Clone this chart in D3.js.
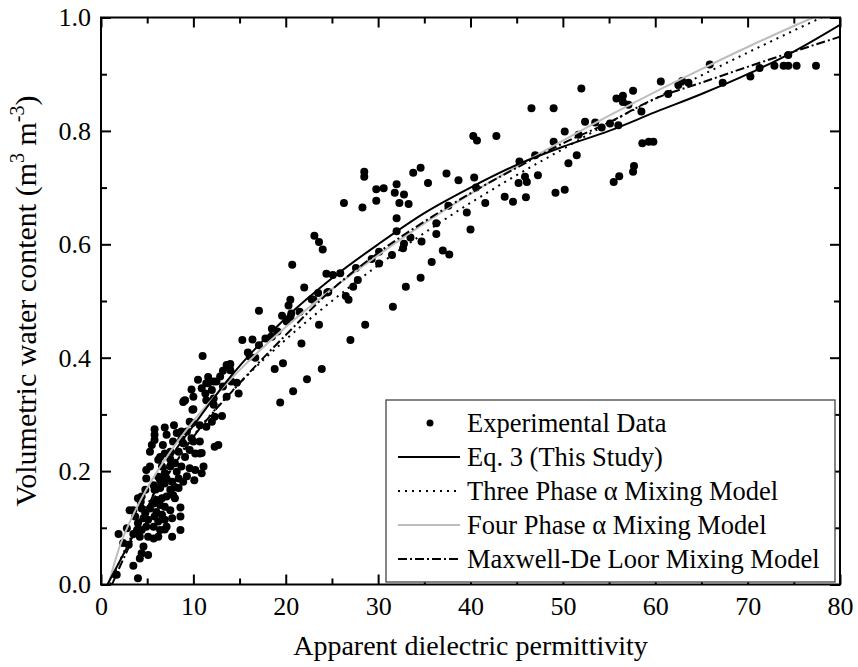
<!DOCTYPE html>
<html>
<head>
<meta charset="utf-8">
<script src="https://cdn.jsdelivr.net/npm/d3@7/dist/d3.min.js"></script>
<style>
  html, body { margin: 0; padding: 0; background: #fff; }
  svg { display: block; }
  text { font-family: "Liberation Serif", "Times New Roman", Times, serif; fill: #000; }
</style>
</head>
<body>
<svg id="chart" width="858" height="667"></svg>
<script>
// Measured soil samples: apparent dielectric permittivity vs volumetric water content
const permittivity = [
  52.0,52.4,53.5,54.2,55.1,56.0,55.8,56.5,56.5,57.1,57.6,58.5,58.6,59.3,59.8,55.5,56.1,57.6,57.7,60.6,
  61.4,62.5,62.9,63.6,65.9,67.3,70.3,71.3,72.9,73.9,74.4,75.3,74.4,77.4,46.6,49.0,40.3,40.7,42.8,50.2,
  49.0,51.7,50.6,51.5,49.2,50.2,47.3,47.0,45.3,45.2,45.9,46.1,46.0,44.6,43.7,41.6,40.6,40.4,38.7,37.4,
  35.4,34.6,33.8,39.6,40.0,37.6,36.3,36.3,37.0,37.7,35.8,34.7,34.6,33.0,33.5,32.7,32.0,32.0,32.3,33.3,
  31.8,32.8,32.0,30.6,29.8,29.8,28.5,28.5,28.3,26.3,31.5,30.1,30.1,29.3,32.8,31.6,28.6,27.0,23.9,22.3,
  21.7,23.6,27.6,27.8,27.3,26.5,26.8,25.9,25.1,24.4,24.6,23.5,23.0,22.0,23.1,23.6,24.0,21.5,20.7,24.5,
  22.8,20.8,19.4,19.7,18.8,17.1,20.3,20.5,19.6,20.6,18.5,19.1,18.5,17.8,17.1,16.4,15.3,15.9,16.1,16.7,
  14.0,14.0,13.2,12.9,12.5,12.2,13.2,11.6,11.3,10.5,11.0,9.8,9.1,10.0,12.0,11.4,12.2,13.6,14.7,14.9,
  13.1,12.0,11.4,10.7,9.6,9.3,9.8,8.9,9.6,10.7,10.7,10.2,12.3,12.7,12.2,9.0,9.9,12.3,7.9,6.9,
  9.9,8.7,5.8,5.8,5.8,5.5,5.3,7.8,8.7,10.0,10.9,7.5,6.9,6.4,6.2,7.5,8.0,8.7,9.6,10.2,
  11.1,10.9,9.3,10.1,8.4,8.9,4.9,4.9,5.3,6.6,6.9,6.2,5.7,5.8,6.4,6.9,7.7,7.5,7.8,7.1,
  6.6,6.0,6.4,6.9,6.0,6.6,6.9,6.2,5.7,6.4,6.9,7.7,8.6,5.7,4.4,4.8,4.3,4.4,4.8,5.1,
  4.9,4.6,3.7,4.0,4.4,3.9,3.5,4.0,3.5,4.2,3.0,2.4,1.9,4.6,4.4,4.2,3.5,5.1,1.7,4.0,
  7.7,8.6,8.0,8.4,8.9,10.0,10.9,11.6,13.6,20.1,20.5,2.8,3.1,14.1,11.4,13.9,7.1,8.2,6.7,8.4,
  9.1,7.5,8.2,7.1,6.4,8.0,5.7,5.3,5.8,7.5,5.1,6.2,7.1,8.6
];
const waterContent = [
  0.875,0.816,0.815,0.806,0.813,0.810,0.857,0.862,0.851,0.846,0.871,0.834,0.778,0.781,0.781,0.710,0.720,0.728,0.738,0.887,
  0.865,0.881,0.888,0.885,0.917,0.885,0.896,0.911,0.915,0.915,0.915,0.915,0.934,0.915,0.840,0.840,0.791,0.783,0.791,0.799,
  0.781,0.793,0.743,0.757,0.691,0.696,0.722,0.757,0.746,0.708,0.719,0.710,0.683,0.675,0.684,0.673,0.700,0.718,0.713,0.725,
  0.708,0.735,0.726,0.656,0.626,0.668,0.637,0.618,0.589,0.582,0.569,0.605,0.541,0.525,0.612,0.593,0.623,0.646,0.673,0.671,
  0.691,0.688,0.706,0.699,0.697,0.677,0.728,0.719,0.665,0.673,0.581,0.566,0.587,0.574,0.601,0.490,0.458,0.431,0.380,0.362,
  0.425,0.458,0.558,0.537,0.525,0.509,0.502,0.549,0.546,0.548,0.516,0.514,0.502,0.524,0.615,0.604,0.591,0.481,0.564,0.515,
  0.503,0.341,0.321,0.390,0.380,0.483,0.492,0.502,0.474,0.478,0.451,0.446,0.437,0.434,0.422,0.432,0.431,0.409,0.402,0.400,
  0.389,0.378,0.377,0.367,0.358,0.358,0.349,0.355,0.337,0.361,0.403,0.344,0.325,0.309,0.343,0.325,0.328,0.331,0.356,0.337,
  0.297,0.287,0.278,0.281,0.287,0.270,0.258,0.249,0.237,0.252,0.231,0.231,0.243,0.246,0.317,0.324,0.308,0.296,0.281,0.277,
  0.285,0.270,0.274,0.264,0.255,0.246,0.234,0.252,0.256,0.252,0.232,0.234,0.231,0.225,0.220,0.221,0.214,0.208,0.205,0.202,
  0.208,0.196,0.191,0.184,0.187,0.181,0.202,0.187,0.208,0.208,0.196,0.190,0.175,0.167,0.170,0.178,0.181,0.167,0.158,0.155,
  0.152,0.149,0.140,0.137,0.128,0.123,0.114,0.111,0.102,0.096,0.097,0.117,0.136,0.081,0.155,0.167,0.146,0.134,0.126,0.114,
  0.102,0.117,0.120,0.108,0.096,0.096,0.131,0.152,0.089,0.084,0.070,0.073,0.089,0.067,0.055,0.046,0.033,0.052,0.017,0.011,
  0.084,0.096,0.152,0.170,0.322,0.331,0.346,0.366,0.387,0.464,0.472,0.099,0.131,0.358,0.355,0.383,0.264,0.267,0.246,0.234,
  0.225,0.208,0.199,0.187,0.184,0.172,0.143,0.134,0.120,0.131,0.084,0.084,0.102,0.120
];

// Calibration / model curves (permittivity, water content)
const eq3Ka    = [0.7, 2, 5, 8, 10, 14, 20, 25, 30, 35, 40, 45, 50, 55, 60, 65, 70, 75, 80];
const eq3Theta = [0, 0.04, 0.135, 0.235, 0.28, 0.366, 0.47, 0.54, 0.6, 0.655, 0.7, 0.74, 0.772, 0.8, 0.833, 0.865, 0.9, 0.94, 0.987];

const threePhaseKa    = [1.0, 2, 3, 5, 7.5, 10, 15, 20, 25, 30, 35, 40, 45, 50, 55, 60, 65, 70, 75, 78];
const threePhaseTheta = [0, 0.04, 0.075, 0.14, 0.205, 0.262, 0.355, 0.432, 0.5, 0.563, 0.62, 0.673, 0.722, 0.768, 0.814, 0.857, 0.898, 0.938, 0.977, 1.0];

const fourPhaseKa    = [0.8, 2, 3, 5, 7.5, 10, 15, 20, 25, 30, 35, 40, 45, 50, 55, 60, 65, 70, 75, 77.1];
const fourPhaseTheta = [0, 0.066, 0.106, 0.17, 0.234, 0.288, 0.378, 0.454, 0.521, 0.581, 0.637, 0.689, 0.737, 0.783, 0.827, 0.869, 0.909, 0.948, 0.985, 1.0];

const maxwellKa    = [1.2, 2, 3, 5, 7.5, 10, 15, 20, 25, 30, 35, 40, 45, 50, 55, 60, 65, 70, 75, 80];
const maxwellTheta = [0, 0.03, 0.065, 0.13, 0.2, 0.26, 0.355, 0.44, 0.52, 0.585, 0.64, 0.69, 0.735, 0.778, 0.815, 0.857, 0.885, 0.913, 0.94, 0.966];

const xTickValues = [0, 10, 20, 30, 40, 50, 60, 70, 80];
const yTickValues = [0.0, 0.2, 0.4, 0.6, 0.8, 1.0];
const legendLabels = [
  "Experimental Data",
  "Eq. 3 (This Study)",
  "Three Phase \u03b1 Mixing Model",
  "Four Phase \u03b1 Mixing Model",
  "Maxwell-De Loor Mixing Model"
];

const svg = d3.select("#chart");
const pLeft = 101, pRight = 840, pTop = 17.5, pBottom = 584.5;

const x = d3.scaleLinear().domain([0, 80]).range([pLeft, pRight]);
const y = d3.scaleLinear().domain([0, 1]).range([pBottom, pTop]);

svg.append("defs").append("clipPath").attr("id", "plotClip")
  .append("rect").attr("x", pLeft).attr("y", pTop).attr("width", pRight - pLeft).attr("height", pBottom - pTop);

const plot = svg.append("g").attr("clip-path", "url(#plotClip)");

// Scatter of measurements
plot.append("g").selectAll("circle")
  .data(permittivity.map((k, i) => [k, waterContent[i]]))
  .join("circle")
  .attr("cx", d => x(d[0]))
  .attr("cy", d => y(d[1]))
  .attr("r", 4)
  .attr("fill", "#000");

const styles = {
  eq3:     { stroke: "#000", width: 2, dash: null },
  three:   { stroke: "#000", width: 2, dash: "2,5" },
  four:    { stroke: "#bdbdbd", width: 2, dash: null },
  maxwell: { stroke: "#000", width: 2, dash: "9,3,2,3" }
};

const line = d3.line().x(d => x(d[0])).y(d => y(d[1])).curve(d3.curveMonotoneX);
function drawCurve(ks, ts, s) {
  plot.append("path")
    .datum(ks.map((k, i) => [k, ts[i]]))
    .attr("d", line)
    .attr("fill", "none")
    .attr("stroke", s.stroke)
    .attr("stroke-width", s.width)
    .attr("stroke-dasharray", s.dash);
}
drawCurve(fourPhaseKa, fourPhaseTheta, styles.four);
drawCurve(threePhaseKa, threePhaseTheta, styles.three);
drawCurve(maxwellKa, maxwellTheta, styles.maxwell);
drawCurve(eq3Ka, eq3Theta, styles.eq3);

// Axes: ticks pointing inward on all four sides
const minorX = d3.range(5, 80, 10);
const minorY = [0.1, 0.3, 0.5, 0.7, 0.9];
function styleAxis(g) {
  g.select(".domain").remove();
  g.selectAll(".tick line").attr("stroke", "#000").attr("stroke-width", 2);
  g.selectAll(".tick text").style("font-size", "26px").style("font-family", '"Liberation Serif", "Times New Roman", serif');
}
const xBottom = svg.append("g").attr("transform", `translate(0,${pBottom})`)
  .call(d3.axisBottom(x).tickValues(xTickValues).tickSize(-10).tickFormat(d3.format("d")));
styleAxis(xBottom);
xBottom.selectAll(".tick text").attr("y", 12).attr("dy", "0.71em");
svg.append("g").attr("transform", `translate(0,${pBottom})`)
  .call(d3.axisBottom(x).tickValues(minorX).tickSize(-6).tickFormat(""))
  .call(styleAxis);
svg.append("g").attr("transform", `translate(0,${pTop})`)
  .call(d3.axisTop(x).tickValues(xTickValues).tickSize(-10).tickFormat(""))
  .call(styleAxis);
svg.append("g").attr("transform", `translate(0,${pTop})`)
  .call(d3.axisTop(x).tickValues(minorX).tickSize(-6).tickFormat(""))
  .call(styleAxis);

const yLeft = svg.append("g").attr("transform", `translate(${pLeft},0)`)
  .call(d3.axisLeft(y).tickValues(yTickValues).tickSize(-10).tickFormat(d3.format(".1f")));
styleAxis(yLeft);
yLeft.selectAll(".tick text").attr("x", -10);
svg.append("g").attr("transform", `translate(${pLeft},0)`)
  .call(d3.axisLeft(y).tickValues(minorY).tickSize(-6).tickFormat(""))
  .call(styleAxis);
svg.append("g").attr("transform", `translate(${pRight},0)`)
  .call(d3.axisRight(y).tickValues(yTickValues).tickSize(-10).tickFormat(""))
  .call(styleAxis);
svg.append("g").attr("transform", `translate(${pRight},0)`)
  .call(d3.axisRight(y).tickValues(minorY).tickSize(-6).tickFormat(""))
  .call(styleAxis);

// Frame
svg.append("rect")
  .attr("x", pLeft).attr("y", pTop)
  .attr("width", pRight - pLeft).attr("height", pBottom - pTop)
  .attr("fill", "none").attr("stroke", "#000").attr("stroke-width", 2);

// Axis titles
svg.append("text")
  .attr("x", (pLeft + pRight) / 2).attr("y", 655)
  .attr("text-anchor", "middle")
  .style("font-size", "28px")
  .text("Apparent dielectric permittivity");

const yTitle = svg.append("text")
  .attr("transform", `translate(36,${(pTop + pBottom) / 2}) rotate(-90)`)
  .attr("text-anchor", "middle")
  .style("font-size", "30px");
yTitle.append("tspan").text("Volumetric water content (m");
yTitle.append("tspan").attr("dy", -12).style("font-size", "20px").text("3");
yTitle.append("tspan").attr("dy", 12).text(" m");
yTitle.append("tspan").attr("dy", -12).style("font-size", "20px").text("-3");
yTitle.append("tspan").attr("dy", 12).text(")");

// Legend
const lg = svg.append("g");
lg.append("rect")
  .attr("x", 386).attr("y", 400).attr("width", 449).attr("height", 182)
  .attr("fill", "#fff").attr("stroke", "#444").attr("stroke-width", 1.3);
const rowY = d3.scalePoint().domain(legendLabels).range([423, 559]);
const sampleStyles = [null, styles.eq3, styles.three, styles.four, styles.maxwell];
legendLabels.forEach((lab, i) => {
  const cy = rowY(lab);
  if (i === 0) {
    lg.append("circle").attr("cx", 430).attr("cy", cy).attr("r", 3.5).attr("fill", "#000");
  } else {
    const s = sampleStyles[i];
    lg.append("line")
      .attr("x1", 398).attr("x2", 460).attr("y1", cy).attr("y2", cy)
      .attr("stroke", s.stroke).attr("stroke-width", s.width)
      .attr("stroke-dasharray", s.dash);
  }
  lg.append("text")
    .attr("x", 467).attr("y", cy).attr("dy", "0.35em")
    .style("font-size", "26.5px")
    .text(lab);
});
</script>
</body>
</html>
